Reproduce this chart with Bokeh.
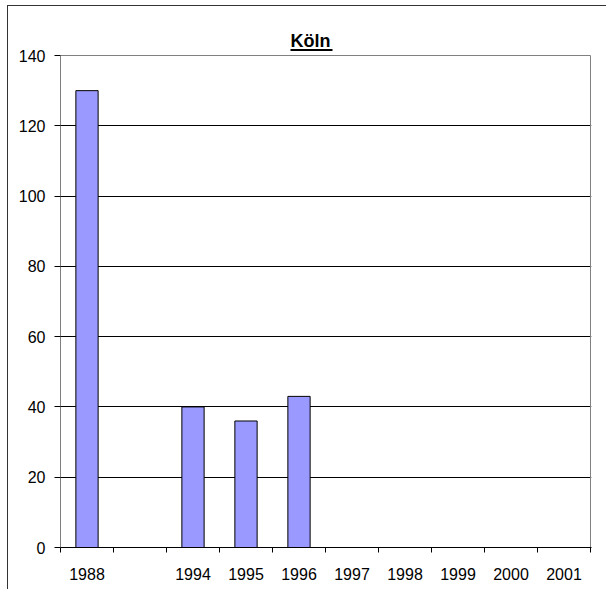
from bokeh.plotting import figure
from bokeh.models import FixedTicker, Range1d, ColumnDataSource
from bokeh.core.properties import value
from bokeh.embed import file_html
from bokeh.resources import INLINE

# Data
categories = ["1988", "", "1994", "1995", "1996", "1997", "1998", "1999", "2000", "2001"]
values = [130, None, 40, 36, 43, None, None, None, None, None]
y_ticks = [0, 20, 40, 60, 80, 100, 120, 140]
title_text = "Köln"

n = len(categories)
ymax = y_ticks[-1]
centers = [i + 0.5 for i in range(n)]
bx = [c for c, v in zip(centers, values) if v is not None]
bv = [v for v in values if v is not None]

# layout (screen pixels)
PLOT_H = 492          # height of the 0..140 area
EXTRA_TOP = 27        # room above 140 for the title
FW = 531
FH = PLOT_H + EXTRA_TOP
ppu = PLOT_H / ymax   # pixels per y unit
xppu = 53.0           # pixels per category

p = figure(output_backend="svg", toolbar_location=None,
           frame_width=FW, frame_height=FH,
           min_border_left=52, min_border_top=22, min_border_right=15, min_border_bottom=42,
           x_range=Range1d(0, n * FW / 530.0), y_range=Range1d(0, ymax + EXTRA_TOP / ppu))
p.styles = {"border-left": "1px solid #333333", "border-top": "1px solid #333333",
            "margin-left": "7px", "margin-top": "5px"}

p.outline_line_color = None
p.background_fill_color = "white"
p.border_fill_color = "white"

FONT = "Liberation Sans"

# grid
p.xgrid.grid_line_color = None
p.ygrid.ticker = FixedTicker(ticks=y_ticks[1:-1])
p.ygrid.grid_line_color = "black"
p.ygrid.grid_line_alpha = 1.0

# plot-area border (gray) and y axis line (black)
p.segment(x0=[0, n], y0=[ymax, 0], x1=[n, n], y1=[ymax, ymax], line_color="#808080", line_width=1)
p.segment(x0=[0], y0=[0], x1=[0], y1=[ymax], line_color="black", line_width=1)

# bars
src = ColumnDataSource(dict(x=bx, top=bv))
p.vbar(x="x", top="top", bottom=0, width=0.42, source=src,
       fill_color="#9999FF", line_color="black", line_width=1)

# x axis
p.xaxis.ticker = FixedTicker(ticks=centers, minor_ticks=list(range(n + 1)))
p.xaxis.major_label_overrides = {c: lab for c, lab in zip(centers, categories)}
p.xaxis.major_tick_line_color = None
p.xaxis.minor_tick_in = 0
p.xaxis.minor_tick_out = 5
p.xaxis.minor_tick_line_color = "black"
p.xaxis.axis_line_color = "black"
p.xaxis.major_label_standoff = 14
p.xaxis.major_label_text_font = FONT
p.xaxis.major_label_text_font_size = "16px"
p.xaxis.major_label_text_color = "black"

# y axis
p.yaxis.ticker = FixedTicker(ticks=y_ticks)
p.yaxis.minor_tick_line_color = None
p.yaxis.major_tick_in = 0
p.yaxis.major_tick_out = 6
p.yaxis.major_tick_line_color = "black"
p.yaxis.axis_line_color = None
p.yaxis.major_label_standoff = 9
p.yaxis.major_label_text_font = FONT
p.yaxis.major_label_text_font_size = "16px"
p.yaxis.major_label_text_color = "black"

# title (bold, underlined)
title_left = (290 - 60) / xppu
title_base = ymax + 15 / ppu
p.text(x=[title_left], y=[title_base], text=[title_text], text_font=value(FONT),
       text_font_style="bold", text_font_size="18px", text_color="black",
       text_align="left", text_baseline="alphabetic")
p.segment(x0=[title_left], y0=[ymax + 5.5 / ppu], x1=[title_left + 42 / xppu], y1=[ymax + 5.5 / ppu],
          line_color="black", line_width=2)

open("out.html", "w").write(file_html(p, INLINE))
